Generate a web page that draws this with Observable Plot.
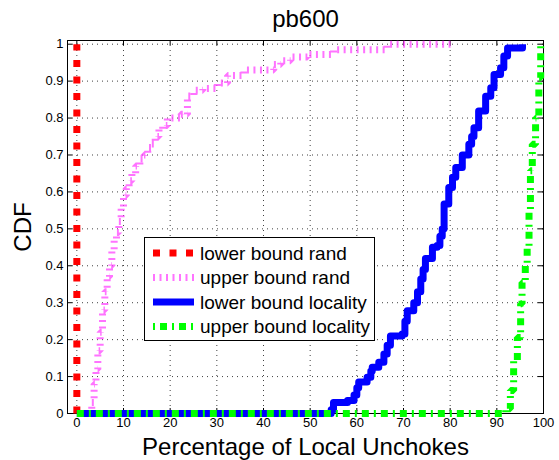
<!DOCTYPE html>
<html>
<head>
<meta charset="utf-8">
<script src="https://cdn.jsdelivr.net/npm/d3@7"></script>
<script src="https://cdn.jsdelivr.net/npm/@observablehq/plot@0.6"></script>
<style>
  html, body { margin: 0; padding: 0; background: #fff; }
  #wrap { position: relative; width: 559px; height: 460px; font-family: "Liberation Sans", Arial, Helvetica, sans-serif; }
</style>
</head>
<body>
<div id="wrap"></div>
<script>
// ---- data ----
const titleText = "pb600";
const xLabel = "Percentage of Local Unchokes";
const yLabel = "CDF";
const seriesNames = ["lower bound rand", "upper bound rand", "lower bound locality", "upper bound locality"];

const xTicks = [0, 10, 20, 30, 40, 50, 60, 70, 80, 90, 100];
const yTicks = [0, 0.1, 0.2, 0.3, 0.4, 0.5, 0.6, 0.7, 0.8, 0.9, 1];

// lower bound rand
const lowerRandX = [0, 0];
const lowerRandY = [0, 1];

// upper bound rand
const upperRandX = [2.8, 3.2, 3.7, 4.1, 4.5, 5.0, 5.5, 6.0, 6.5, 7.0, 7.5, 8.0, 8.5, 9.0, 9.5, 10.0, 10.6, 11.2, 11.8, 12.6, 13.5, 14.4, 15.2, 15.9, 16.8, 17.6, 18.4, 19.4, 22.3, 23.7, 25.1, 27.0, 30.1, 32.3, 35.8, 42.2, 43.7, 45.8, 49.4, 55.0, 66.5, 81.0];
const upperRandY = [0, 0.03, 0.08, 0.12, 0.17, 0.22, 0.28, 0.33, 0.37, 0.40, 0.44, 0.47, 0.49, 0.52, 0.56, 0.59, 0.61, 0.63, 0.65, 0.67, 0.69, 0.70, 0.72, 0.73, 0.75, 0.77, 0.78, 0.80, 0.81, 0.86, 0.875, 0.88, 0.895, 0.915, 0.93, 0.945, 0.955, 0.965, 0.972, 0.985, 1.0, 1.0];

// lower bound locality
const lowerLocX = [0, 54.5, 55.0, 58.0, 59.4, 60.0, 60.4, 62.2, 63.0, 63.3, 64.7, 65.8, 66.5, 67.2, 69.7, 70.3, 70.8, 72.2, 73.0, 73.7, 74.2, 74.7, 76.2, 77.2, 77.8, 78.3, 78.7, 79.7, 80.5, 81.2, 82.6, 84.0, 84.6, 85.1, 86.1, 87.6, 88.7, 89.4, 90.8, 91.5, 92.3, 95.5];
const lowerLocY = [0, 0.01, 0.03, 0.035, 0.05, 0.07, 0.085, 0.098, 0.115, 0.125, 0.139, 0.161, 0.185, 0.21, 0.215, 0.25, 0.278, 0.30, 0.33, 0.364, 0.39, 0.42, 0.45, 0.455, 0.48, 0.50, 0.567, 0.612, 0.64, 0.666, 0.70, 0.729, 0.75, 0.774, 0.819, 0.859, 0.882, 0.918, 0.936, 0.968, 0.99, 1.0];

// upper bound locality
const upperLocX = [0, 91.9, 92.9, 93.6, 94.4, 95.1, 95.4, 96.1, 96.5, 96.9, 97.2, 97.6, 98.3, 99.0, 99.4];
const upperLocY = [0, 0.013, 0.062, 0.143, 0.206, 0.297, 0.355, 0.405, 0.454, 0.55, 0.657, 0.729, 0.80, 0.909, 1.0];

// ---- styles ----
const styles = [
  {stroke: "#ff0000", strokeWidth: 7, strokeDasharray: "7,9.5", strokeOpacity: 1},
  {stroke: "#ff44ff", strokeWidth: 7, strokeDasharray: "2,4.5", strokeOpacity: 0.75},
  {stroke: "#0000ff", strokeWidth: 7, strokeDasharray: null, strokeOpacity: 1},
  {stroke: "#00ff00", strokeWidth: 7, strokeDasharray: "7,5,2,5", strokeOpacity: 1}
];

const pts = (xs, ys) => xs.map((x, i) => ({x, y: ys[i]}));
const series = [
  pts(lowerRandX, lowerRandY),
  pts(upperRandX, upperRandY),
  pts(lowerLocX, lowerLocY),
  pts(upperLocX, upperLocY)
];

const W = 559, H = 460;
const mL = 67, mR = 16, mT = 40, mB = 47;
const innerW = W - mL - mR, innerH = H - mT - mB;

const gridStyle = {stroke: "#000", strokeOpacity: 0.75, strokeDasharray: "1,4", strokeWidth: 1};

const lineMarks = series.map((data, i) => Plot.line(data, {
  x: "x", y: "y", curve: "step-after",
  stroke: styles[i].stroke, strokeWidth: styles[i].strokeWidth,
  strokeDasharray: styles[i].strokeDasharray, strokeOpacity: styles[i].strokeOpacity,
  strokeLinecap: "butt", strokeLinejoin: i === 2 ? "round" : "miter"
}));

const chart = Plot.plot({
  width: W, height: H,
  marginLeft: mL, marginRight: mR, marginTop: mT, marginBottom: mB,
  style: {fontFamily: "'Liberation Sans', Arial, Helvetica, sans-serif", fontSize: "13px", color: "#000", background: "#fff", overflow: "visible"},
  x: {domain: [-2, 100]},
  y: {domain: [0, 1.01]},
  marks: [
    Plot.gridX(xTicks, gridStyle),
    Plot.gridY(yTicks, gridStyle),
    Plot.frame({stroke: "#000", strokeWidth: 1}),
    Plot.tickX(xTicks, {x: d => d, insetTop: innerH - 5, stroke: "#000"}),
    Plot.tickX(xTicks, {x: d => d, insetBottom: innerH - 5, stroke: "#000"}),
    Plot.tickY(yTicks, {y: d => d, insetRight: innerW - 5, stroke: "#000"}),
    Plot.tickY(yTicks, {y: d => d, insetLeft: innerW - 5, stroke: "#000"}),
    ...lineMarks,
    Plot.axisX(xTicks, {anchor: "bottom", tickSize: 0, tickPadding: 4, fontSize: 13, label: null, tickFormat: d => String(d), fill: "#000"}),
    Plot.axisY(yTicks, {anchor: "left", tickSize: 0, tickPadding: 4, fontSize: 13, label: null, tickFormat: d => String(d), fill: "#000"}),
    Plot.text([titleText], {text: d => d, frameAnchor: "top", lineAnchor: "middle", textAnchor: "middle", dy: -21, fontSize: 24, fill: "#000"}),
    Plot.text([xLabel], {text: d => d, frameAnchor: "bottom", lineAnchor: "middle", textAnchor: "middle", dy: 34, fontSize: 24, fill: "#000"}),
    Plot.text([yLabel], {text: d => d, frameAnchor: "left", lineAnchor: "middle", textAnchor: "middle", dx: -44, rotate: -90, fontSize: 24, fill: "#000"})
  ]
});

const wrap = document.getElementById("wrap");
wrap.appendChild(chart);

// ---- legend ----
const ns = "http://www.w3.org/2000/svg";
const lg = document.createElementNS(ns, "svg");
lg.setAttribute("width", 231);
lg.setAttribute("height", 104);
lg.style.position = "absolute";
lg.style.left = "144px";
lg.style.top = "237px";
const box = document.createElementNS(ns, "rect");
box.setAttribute("x", 0.5); box.setAttribute("y", 0.5);
box.setAttribute("width", 230); box.setAttribute("height", 103);
box.setAttribute("fill", "#fff"); box.setAttribute("stroke", "#000"); box.setAttribute("stroke-width", 1);
lg.appendChild(box);
const rowY = [16, 40.5, 65, 89.5];
seriesNames.forEach((name, i) => {
  const s = styles[i];
  const ln = document.createElementNS(ns, "line");
  ln.setAttribute("x1", 9); ln.setAttribute("x2", 50);
  ln.setAttribute("y1", rowY[i]); ln.setAttribute("y2", rowY[i]);
  ln.setAttribute("stroke", s.stroke);
  ln.setAttribute("stroke-width", s.strokeWidth);
  ln.setAttribute("stroke-opacity", s.strokeOpacity);
  if (s.strokeDasharray) ln.setAttribute("stroke-dasharray", s.strokeDasharray);
  if (i === 3) ln.setAttribute("stroke-dashoffset", 12);
  lg.appendChild(ln);
  const t = document.createElementNS(ns, "text");
  t.setAttribute("x", 56); t.setAttribute("y", rowY[i]);
  t.setAttribute("dy", "0.35em");
  t.setAttribute("font-size", 19);
  t.setAttribute("font-family", "'Liberation Sans', Arial, Helvetica, sans-serif");
  t.setAttribute("fill", "#000");
  t.textContent = name;
  lg.appendChild(t);
});
wrap.appendChild(lg);
</script>
</body>
</html>
